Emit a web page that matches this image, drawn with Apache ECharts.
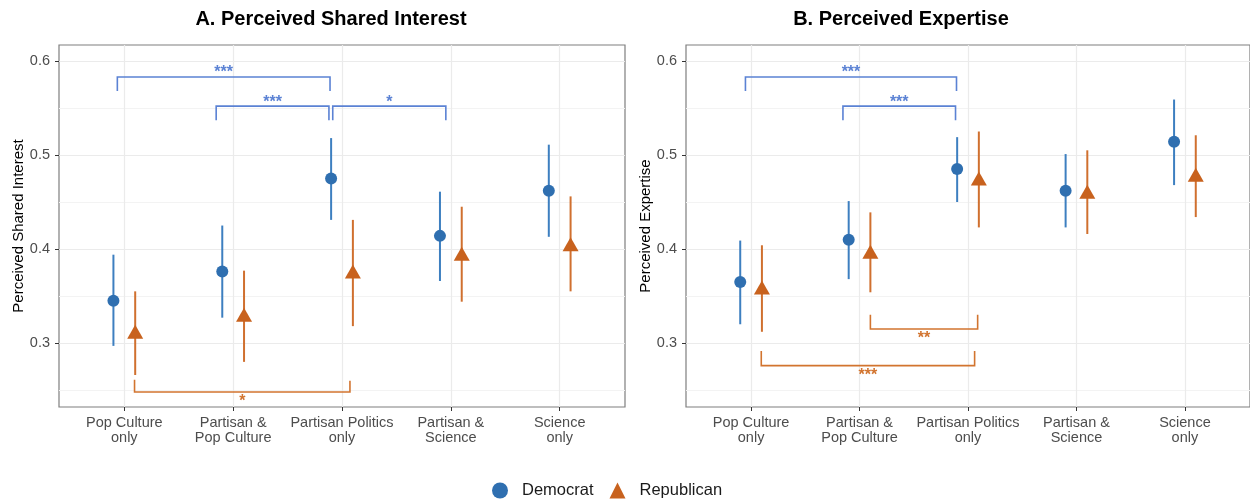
<!DOCTYPE html>
<html lang="en">
<head>
<meta charset="UTF-8">
<title>Perceived Shared Interest and Expertise</title>
<script src="https://cdn.jsdelivr.net/npm/echarts@6/dist/echarts.min.js"></script>
<style>
    html, body { margin: 0; padding: 0; background: #fff; }
    #main { width: 1250px; height: 502px; }
</style>
</head>
<body>
<div id="main"></div>
<script>
    // categories sit at x = 1..5
    var categories = ['Pop Culture\nonly', 'Partisan &\nPop Culture', 'Partisan Politics\nonly', 'Partisan &\nScience', 'Science\nonly'];
    var yTicks = [0.3, 0.4, 0.5, 0.6];
    var yMinorTicks = [0.25, 0.35, 0.45, 0.55];

    // A. perceived shared interest
    var interestDem   = [0.345, 0.376, 0.475, 0.414, 0.462];
    var interestDemLo = [0.297, 0.327, 0.431, 0.366, 0.413];
    var interestDemHi = [0.394, 0.425, 0.518, 0.461, 0.511];
    var interestRep   = [0.312, 0.330, 0.376, 0.395, 0.405];
    var interestRepLo = [0.266, 0.280, 0.318, 0.344, 0.355];
    var interestRepHi = [0.355, 0.377, 0.431, 0.445, 0.456];

    // B. perceived expertise
    var expertiseDem   = [0.365, 0.410, 0.485, 0.462, 0.514];
    var expertiseDemLo = [0.320, 0.368, 0.450, 0.423, 0.468];
    var expertiseDemHi = [0.409, 0.451, 0.519, 0.501, 0.559];
    var expertiseRep   = [0.359, 0.397, 0.475, 0.461, 0.479];
    var expertiseRepLo = [0.312, 0.354, 0.423, 0.416, 0.434];
    var expertiseRepHi = [0.404, 0.439, 0.525, 0.505, 0.521];

    // significance brackets: [xStart, xEnd, yBar, yEndStart, yEndEnd, label]
    var interestDemBrackets = [
        [0.936, 2.890, 0.583, 0.568, 0.568, '***'],
        [1.844, 2.880, 0.552, 0.537, 0.537, '***'],
        [2.915, 3.954, 0.552, 0.537, 0.537, '*']
    ];
    var interestRepBrackets = [
        [1.094, 3.073, 0.248, 0.261, 0.260, '*']
    ];
    var expertiseDemBrackets = [
        [0.948, 2.894, 0.583, 0.568, 0.568, '***'],
        [1.847, 2.885, 0.552, 0.537, 0.537, '***']
    ];
    var expertiseRepBrackets = [
        [2.100, 3.089, 0.315, 0.330, 0.330, '**'],
        [1.094, 3.061, 0.276, 0.2915, 0.2915, '***']
    ];

    var FONT = '"Liberation Sans", Arial, sans-serif';
    var BLUE = '#2f6fb0', ORANGE = '#c8621e';
    var BLUE_LINE = '#3d7fc0', ORANGE_LINE = '#d0702f';
    var BLUE_BR = '#5b82d4', ORANGE_BR = '#d2742f';
    var DODGE = 0.1;
    var YMIN = 0.232, YMAX = 0.617;

    function ptData(vals, off) {
        return vals.map(function (v, i) { return [i + 1 + off, v]; });
    }
    function ciData(lo, hi, off) {
        return lo.map(function (v, i) { return [i + 1 + off, v, hi[i]]; });
    }

    function ciSeries(gi, data, color) {
        return {
            type: 'custom', xAxisIndex: gi, yAxisIndex: gi * 2, data: data, z: 2, silent: true,
            encode: {x: 0, y: 1},
            renderItem: function (params, api) {
                var a = api.coord([api.value(0), api.value(1)]);
                var b = api.coord([api.value(0), api.value(2)]);
                return {type: 'line', shape: {x1: a[0], y1: a[1], x2: b[0], y2: b[1]},
                    style: {stroke: color, lineWidth: 2}};
            }
        };
    }

    function bracketSeries(gi, list, color, below) {
        return {
            type: 'custom', xAxisIndex: gi, yAxisIndex: gi * 2, z: 3, silent: true,
            data: list.map(function (b) { return [b[0], b[1], b[2], b[3], b[4]]; }),
            encode: {x: 0, y: 2},
            renderItem: function (params, api) {
                var b = list[params.dataIndex];
                var p1 = api.coord([b[0], b[3]]);
                var p2 = api.coord([b[0], b[2]]);
                var p3 = api.coord([b[1], b[2]]);
                var p4 = api.coord([b[1], b[4]]);
                var mid = (p2[0] + p3[0]) / 2;
                return {type: 'group', children: [
                    {type: 'polyline', shape: {points: [p1, p2, p3, p4]},
                        style: {stroke: color, lineWidth: 1.6, fill: null}},
                    {type: 'text', x: mid, y: below ? p2[1] + 10 : p2[1] - 4,
                        style: {text: b[5], fill: color, font: 'bold 16px ' + FONT,
                            textAlign: 'center', textVerticalAlign: 'middle'}}
                ]};
            }
        };
    }

    function pointSeries(gi, name, data, symbol, size, color) {
        return {
            type: 'scatter', name: name, xAxisIndex: gi, yAxisIndex: gi * 2, data: data, z: 4,
            symbol: symbol, symbolSize: size, itemStyle: {color: color, opacity: 1}
        };
    }

    function xAxisCfg(gi) {
        return {
            type: 'value', gridIndex: gi, min: 0.4, max: 5.6,
            axisLine: {show: false},
            axisTick: {show: true, customValues: [1, 2, 3, 4, 5], length: 4, lineStyle: {color: '#333'}},
            axisLabel: {customValues: [1, 2, 3, 4, 5], color: '#4d4d4d', fontSize: 14.5, lineHeight: 15.5,
                margin: 8, fontFamily: FONT,
                formatter: function (v) { return categories[Math.round(v) - 1]; }},
            splitLine: {show: true, lineStyle: {color: '#ebebeb', width: 1.2}}
        };
    }

    function yAxisCfg(gi, name) {
        return {
            type: 'value', gridIndex: gi, min: YMIN, max: YMAX, position: 'left',
            name: name, nameLocation: 'middle', nameGap: 33, nameRotate: 90,
            nameTextStyle: {color: '#000', fontSize: 15, fontFamily: FONT},
            axisLine: {show: false},
            axisTick: {show: true, customValues: yTicks, length: 4, lineStyle: {color: '#333'}},
            axisLabel: {customValues: yTicks, color: '#4d4d4d', fontSize: 14.5, margin: 9, fontFamily: FONT,
                formatter: function (v) { return v.toFixed(1); }},
            splitLine: {show: true, lineStyle: {color: '#ebebeb', width: 1.2}}
        };
    }

    function yMinorCfg(gi) {
        return {
            type: 'value', gridIndex: gi, min: YMIN, max: YMAX, position: 'left',
            axisLine: {show: false},
            axisTick: {show: false, customValues: yMinorTicks},
            axisLabel: {show: false, customValues: yMinorTicks},
            splitLine: {show: true, lineStyle: {color: '#f3f3f3', width: 1}}
        };
    }

    var chart = echarts.init(document.getElementById('main'));
    var option = {
        animation: false,
        textStyle: {fontFamily: FONT},
        graphic: [
            {type: 'text', x: 331, y: 19, style: {text: 'A. Perceived Shared Interest', fill: '#000',
                font: 'bold 20px ' + FONT, textAlign: 'center', textVerticalAlign: 'middle'}},
            {type: 'text', x: 901, y: 19, style: {text: 'B. Perceived Expertise', fill: '#000',
                font: 'bold 20px ' + FONT, textAlign: 'center', textVerticalAlign: 'middle'}}
        ],
        legend: {
            data: ['Democrat', 'Republican'], left: 487, top: 477,
            itemWidth: 16, itemHeight: 16, itemGap: 16,
            textStyle: {fontSize: 16.5, color: '#1a1a1a', fontFamily: FONT, padding: [0, 0, 0, 9]}
        },
        grid: [
            {left: 59, top: 45, width: 566, height: 362, show: true, borderColor: '#7f7f7f', borderWidth: 1.2},
            {left: 686, top: 45, width: 566, height: 362, show: true, borderColor: '#7f7f7f', borderWidth: 1.2}
        ],
        xAxis: [xAxisCfg(0), xAxisCfg(1)],
        yAxis: [yAxisCfg(0, 'Perceived Shared Interest'), yMinorCfg(0),
                yAxisCfg(1, 'Perceived Expertise'), yMinorCfg(1)],
        series: [
            pointSeries(0, 'Democrat', ptData(interestDem, -DODGE), 'circle', 12, BLUE),
            pointSeries(0, 'Republican', ptData(interestRep, DODGE), 'triangle', [16, 14], ORANGE),
            pointSeries(1, 'Democrat', ptData(expertiseDem, -DODGE), 'circle', 12, BLUE),
            pointSeries(1, 'Republican', ptData(expertiseRep, DODGE), 'triangle', [16, 14], ORANGE),
            ciSeries(0, ciData(interestDemLo, interestDemHi, -DODGE), BLUE_LINE),
            ciSeries(0, ciData(interestRepLo, interestRepHi, DODGE), ORANGE_LINE),
            ciSeries(1, ciData(expertiseDemLo, expertiseDemHi, -DODGE), BLUE_LINE),
            ciSeries(1, ciData(expertiseRepLo, expertiseRepHi, DODGE), ORANGE_LINE),
            bracketSeries(0, interestDemBrackets, BLUE_BR, false),
            bracketSeries(0, interestRepBrackets, ORANGE_BR, true),
            bracketSeries(1, expertiseDemBrackets, BLUE_BR, false),
            bracketSeries(1, expertiseRepBrackets, ORANGE_BR, true)
        ]
    };
    chart.setOption(option);
</script>
</body>
</html>
